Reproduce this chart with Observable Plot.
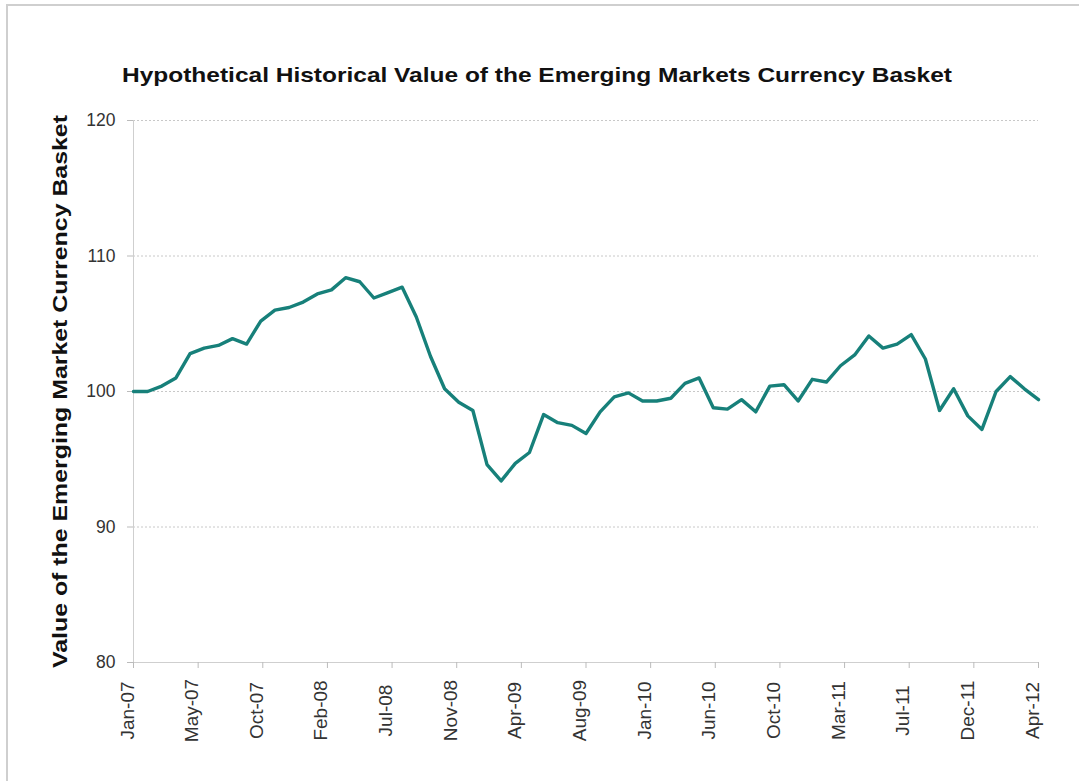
<!DOCTYPE html>
<html>
<head>
<meta charset="utf-8">
<script src="https://cdn.jsdelivr.net/npm/d3@7"></script>
<script src="https://cdn.jsdelivr.net/npm/@observablehq/plot@0.6"></script>
<style>
  body { margin: 0; background: #fff; font-family: "Liberation Sans", Arial, sans-serif; }
  #wrap { position: relative; width: 1079px; height: 781px; overflow: hidden; }
  #frame { position: absolute; left: 6px; top: 4px; width: 1100px; height: 800px; border-top: 2px solid #cfcfcf; border-left: 2px solid #cfcfcf; pointer-events: none; }
  #title { height: 100px; box-sizing: border-box; padding-top: 63px; padding-left: 122px; color: #111; white-space: nowrap; }
  #title span { display: inline-block; font: bold 21px "Liberation Sans", Arial, sans-serif; transform-origin: 0 50%; }
</style>
</head>
<body>
<div id="wrap">
  <div id="frame"></div>
  <div id="title"><span id="titleText"></span></div>
  <div id="chart"></div>
</div>
<script>
const titleText = "Hypothetical Historical Value of the Emerging Markets Currency Basket";
const yLabel = "Value of the Emerging Market Currency Basket";
const tickLabels = ["Jan-07","May-07","Oct-07","Feb-08","Jul-08","Nov-08","Apr-09","Aug-09","Jan-10","Jun-10","Oct-10","Mar-11","Jul-11","Dec-11","Apr-12"];
const yTicks = [80, 90, 100, 110, 120];
const values = [
  100.0, 100.0, 100.4, 101.0, 102.8, 103.2, 103.4, 103.9, 103.5, 105.2,
  106.0, 106.2, 106.6, 107.2, 107.5, 108.4, 108.1, 106.9, 107.3, 107.7,
  105.5, 102.6, 100.2, 99.2, 98.6, 94.6, 93.4, 94.7, 95.5, 98.3,
  97.7, 97.5, 96.9, 98.5, 99.6, 99.9, 99.3, 99.3, 99.5, 100.6,
  101.0, 98.8, 98.7, 99.4, 98.5, 100.4, 100.5, 99.3, 100.9, 100.7,
  101.9, 102.7, 104.1, 103.2, 103.5, 104.2, 102.4, 98.6, 100.2, 98.2,
  97.2, 100.0, 101.1, 100.2, 99.4
];

const series = values.map((v, i) => ({i, v}));
const last = values.length - 1;
const ticks = tickLabels.map((label, k) => ({label, pos: k * last / (tickLabels.length - 1)}));

// title, stretched horizontally to the reference's width
const tspan = document.getElementById("titleText");
tspan.textContent = titleText;
const tw = tspan.getBoundingClientRect().width;
tspan.style.transform = `scaleX(${830 / tw})`;

const chart = Plot.plot({
  width: 1079,
  height: 681,
  marginTop: 20,
  marginBottom: 119,
  marginLeft: 133,
  marginRight: 41,
  style: {fontFamily: "'Liberation Sans', Arial, sans-serif", background: "#fff"},
  x: {domain: [0, last]},
  y: {domain: [80, 120]},
  marks: [
    Plot.gridY([90, 100, 110, 120], {stroke: "#c8c8c8", strokeOpacity: 1, strokeDasharray: "2,2"}),
    Plot.ruleY([80], {stroke: "#cfcfcf"}),
    Plot.ruleX([0], {stroke: "#cfcfcf"}),
    Plot.axisY({ticks: yTicks, tickSize: 6, tickPadding: 12, fontSize: 17.5, fill: "#333", stroke: "#bbb", label: null}),
    Plot.axisX({ticks: ticks.map(d => d.pos), tickSize: 6, tickFormat: () => "", stroke: "#bbb", label: null}),
    Plot.text(ticks, {x: "pos", text: "label", frameAnchor: "bottom", rotate: -90, textAnchor: "middle", dy: 48, fontSize: 19, fill: "#333"}),
    Plot.text([yLabel], {frameAnchor: "left", rotate: -90, textAnchor: "middle", dx: -73, fontSize: 21, fontWeight: "bold", fill: "#111", className: "ylab"}),
    Plot.line(series, {x: "i", y: "v", stroke: "#17807a", strokeWidth: 3.4, strokeLinejoin: "round"})
  ]
});
document.getElementById("chart").appendChild(chart);
const yl = chart.querySelector(".ylab text");
if (yl) { yl.setAttribute("textLength", 553); yl.setAttribute("lengthAdjust", "spacingAndGlyphs"); }
</script>
</body>
</html>
